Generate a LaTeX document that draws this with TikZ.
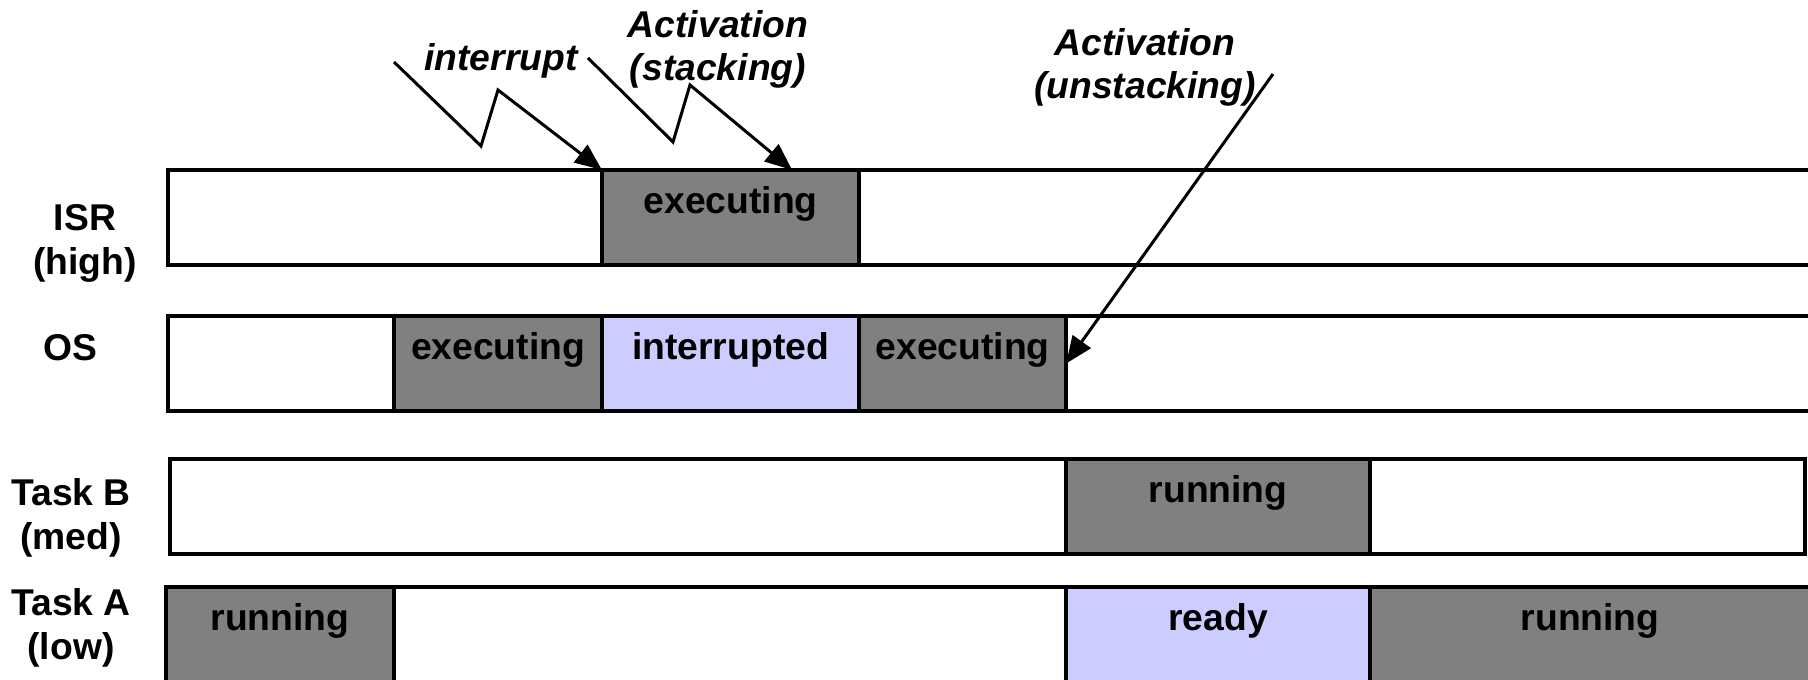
\documentclass[tikz,border=0pt]{standalone}
\usepackage{fontspec}
\setmainfont{Liberation Sans}
\usetikzlibrary{arrows.meta}
\definecolor{segGray}{HTML}{808080}
\definecolor{segBlue}{HTML}{CCCCFF}
\begin{document}
\begin{tikzpicture}[x=0.01cm,y=-0.01cm,
  every node/.style={font=\fontsize{10.6pt}{12.5pt}\selectfont\bfseries},
  seg/.style={draw, line width=1.1pt, inner xsep=0pt, inner ysep=0pt, outer sep=0pt,
    text height=0.43cm, text depth=0.52cm, anchor=north west, fill=white},
  segA/.style={seg, text depth=0.80cm},
  busy/.style={fill=segGray},
  waiting/.style={fill=segBlue},
  rowlabel/.style={align=center, inner sep=0pt},
  note/.style={align=center, inner sep=0pt, font=\fontsize{10.6pt}{12.2pt}\selectfont\bfseries\itshape},
  bolt/.style={line width=0.85pt, -{Triangle[length=0.27cm,width=0.22cm]}}
]
\useasboundingbox (0,0) rectangle (1808,680);
\clip (0,0) rectangle (1808,680);

% ISR row
\node[seg, minimum width=4.34cm] (isr1) at (168,170) {};
\node[seg, busy, minimum width=2.57cm] (isrExec) at (602,170) {executing};
\node[seg, minimum width=9.71cm] (isr3) at (859,170) {};

% OS row
\node[seg, minimum width=2.26cm] (os1) at (168,316) {};
\node[seg, busy, minimum width=2.08cm] (osExec1) at (394,316) {executing};
\node[seg, waiting, minimum width=2.57cm] (osInt) at (602,316) {interrupted};
\node[seg, busy, minimum width=2.07cm] (osExec2) at (859,316) {executing};
\node[seg, minimum width=7.64cm] (os5) at (1066,316) {};

% Task B row
\node[seg, minimum width=8.96cm] (tb1) at (170,459) {};
\node[seg, busy, minimum width=3.04cm] (tbRun) at (1066,459) {running};
\node[seg, minimum width=4.35cm] (tb3) at (1370,459) {};

% Task A row
\node[segA, busy, minimum width=2.28cm] (taRun1) at (166,587) {running};
\node[segA, minimum width=6.72cm] (ta2) at (394,587) {};
\node[segA, waiting, minimum width=3.04cm] (taReady) at (1066,587) {ready};
\node[segA, busy, minimum width=4.40cm] (taRun2) at (1370,587) {running};

% row labels
\node[rowlabel] (lISR) at (85,243) {ISR\\(high)};
\node[rowlabel] (lOS) at (70,348) {OS};
\node[rowlabel] (lB) at (71,518) {Task B\\(med)};
\node[rowlabel] (lA) at (71,628) {Task A\\(low)};

% annotations
\node[note, anchor=base] (nInt) at (501,71) {interrupt};
\node[note] (nStack) at (718,49) {Activation\\(stacking)};
\node[note] (nUnstack) at (1145,67) {Activation\\(unstacking)};

% arrows
\coordinate (intStart) at (394,62);
\coordinate (intLow) at (481,146);
\coordinate (intHigh) at (498,90);
\draw[bolt] (intStart) -- (intLow) -- (intHigh) -- (isrExec.north west);

\coordinate (stStart) at (588,58);
\coordinate (stLow) at (673,142);
\coordinate (stHigh) at (690,85);
\draw[bolt] (stStart) -- (stLow) -- (stHigh) -- ([xshift=1.90cm]isrExec.north west);

\coordinate (unStart) at (1273,74);
\draw[bolt] (unStart) -- (osExec2.east);
\end{tikzpicture}
\end{document}
